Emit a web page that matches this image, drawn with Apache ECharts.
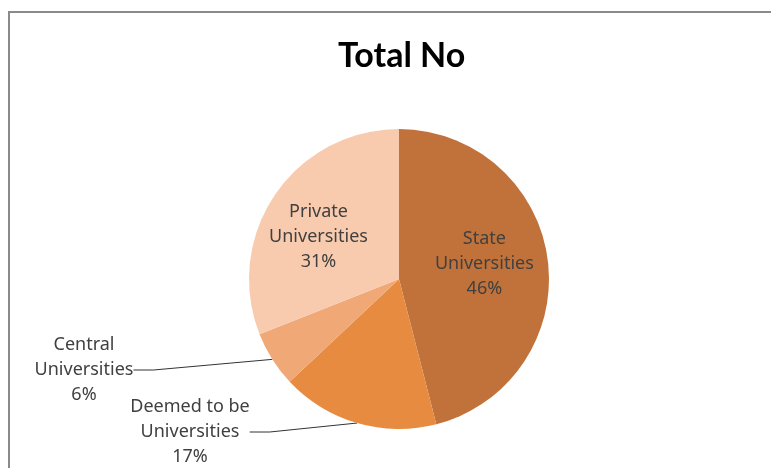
<!DOCTYPE html>
<html>
<head>
<meta charset="utf-8">
<script src="https://cdn.jsdelivr.net/npm/echarts@6/dist/echarts.min.js"></script>
<style>
  html, body { margin: 0; padding: 0; background: #fff; }
  #main { width: 771px; height: 468px; }
</style>
</head>
<body>
<div id="main"></div>
<script>
// share of universities by type (clockwise from 12 o'clock)
var categories = ['State\nUniversities', 'Deemed to be\nUniversities', 'Central\nUniversities', 'Private\nUniversities'];
var shares = [46, 17, 6, 31];
var colors = ['#C0723A', '#E78B40', '#F1A877', '#F9CBAE'];

var chart = echarts.init(document.getElementById('main'));

var pieData = [];
for (var i = 0; i < categories.length; i++) {
  pieData.push({
    name: categories[i],
    value: shares[i],
    itemStyle: { color: colors[i] },
    label: { position: (i == 1 || i == 2) ? 'outside' : 'inside' }
  });
}

var option = {
  animation: false,
  title: {
    text: 'Total No',
    left: 333,
    top: 34,
    textStyle: { fontFamily: 'Lato', fontWeight: 'bold', fontSize: 34, color: '#000' }
  },
  graphic: [{
    type: 'rect',
    shape: { x: 9, y: 12, width: 800, height: 500 },
    style: { fill: 'none', stroke: '#8a8a8a', lineWidth: 2 },
    silent: true
  }],
  series: [{
    type: 'pie',
    center: [399, 279],
    radius: 150,
    startAngle: 90,
    clockwise: true,
    data: pieData,
    label: {
      formatter: '{b}\n{d}%',
      fontFamily: 'Noto Sans',
      fontSize: 18,
      lineHeight: 25,
      color: '#404040',
      align: 'center'
    },
    labelLine: {
      show: true,
      length: 8,
      length2: 20,
      lineStyle: { color: '#333', width: 1 }
    },
    labelLayout: function (params) {
      // move labels to where the original places them
      if (params.dataIndex == 0) return { dx: 8, dy: -5 };
      if (params.dataIndex == 3) return { dx: -16, dy: 2 };
      if (params.dataIndex == 2) return { x: 84, y: 370, align: 'center', verticalAlign: 'middle' };
      if (params.dataIndex == 1) return { x: 190, y: 432, align: 'center', verticalAlign: 'middle' };
    }
  }]
};
chart.setOption(option);
</script>
</body>
</html>
